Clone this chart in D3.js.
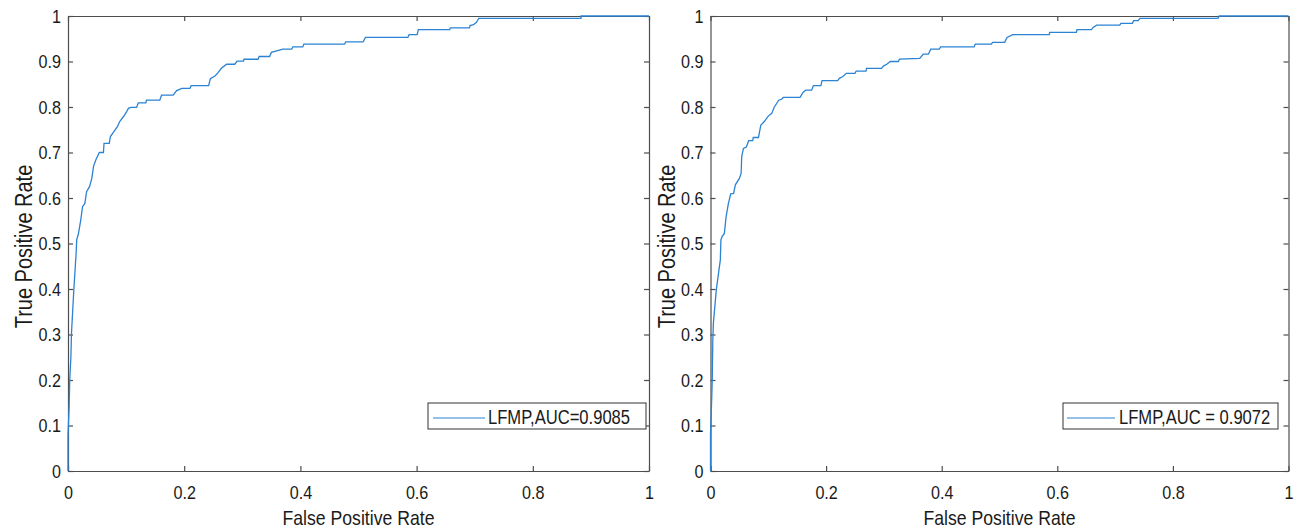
<!DOCTYPE html>
<html>
<head>
<meta charset="utf-8">
<script src="https://cdn.jsdelivr.net/npm/d3@7"></script>
<style>
  body { margin: 0; background: #fff; }
  text { font-family: "Liberation Sans", Arial, sans-serif; fill: #1a1a1a; }
</style>
</head>
<body>
<div class="rocChart"></div>
<script>
// ROC curve points (FPR, TPR)
var leftFpr = [0, 0, 0.002, 0.003, 0.005, 0.006, 0.010, 0.014, 0.015, 0.018, 0.022, 0.025, 0.029, 0.032, 0.037, 0.041, 0.044, 0.048, 0.054, 0.061, 0.062, 0.071, 0.073, 0.079, 0.085, 0.089, 0.095, 0.101, 0.104, 0.108, 0.118, 0.121, 0.134, 0.135, 0.158, 0.161, 0.181, 0.187, 0.196, 0.210, 0.212, 0.242, 0.245, 0.253, 0.258, 0.264, 0.273, 0.287, 0.291, 0.302, 0.303, 0.327, 0.329, 0.347, 0.350, 0.370, 0.385, 0.387, 0.404, 0.406, 0.476, 0.478, 0.508, 0.512, 0.585, 0.587, 0.601, 0.603, 0.657, 0.658, 0.691, 0.692, 0.698, 0.703, 0.707, 0.883, 0.883, 1];
var leftTpr = [0, 0.08, 0.141, 0.2, 0.251, 0.303, 0.398, 0.479, 0.508, 0.522, 0.552, 0.581, 0.588, 0.614, 0.625, 0.643, 0.670, 0.684, 0.700, 0.700, 0.720, 0.720, 0.735, 0.746, 0.757, 0.768, 0.778, 0.790, 0.797, 0.799, 0.799, 0.809, 0.809, 0.815, 0.815, 0.826, 0.826, 0.836, 0.841, 0.841, 0.847, 0.847, 0.862, 0.868, 0.875, 0.885, 0.894, 0.894, 0.901, 0.901, 0.905, 0.905, 0.911, 0.911, 0.920, 0.927, 0.927, 0.932, 0.932, 0.938, 0.938, 0.943, 0.943, 0.953, 0.953, 0.959, 0.959, 0.970, 0.970, 0.974, 0.974, 0.979, 0.981, 0.986, 0.995, 0.995, 1, 1];

var rightFpr = [0, 0, 0.002, 0.003, 0.004, 0.005, 0.010, 0.017, 0.018, 0.020, 0.024, 0.027, 0.031, 0.035, 0.040, 0.043, 0.050, 0.053, 0.054, 0.057, 0.062, 0.066, 0.073, 0.074, 0.083, 0.087, 0.093, 0.100, 0.106, 0.110, 0.118, 0.123, 0.126, 0.155, 0.160, 0.165, 0.175, 0.178, 0.191, 0.193, 0.220, 0.223, 0.229, 0.235, 0.250, 0.252, 0.269, 0.270, 0.296, 0.299, 0.305, 0.311, 0.325, 0.327, 0.362, 0.368, 0.377, 0.381, 0.396, 0.398, 0.456, 0.458, 0.486, 0.488, 0.509, 0.513, 0.523, 0.586, 0.587, 0.633, 0.634, 0.659, 0.662, 0.668, 0.708, 0.710, 0.730, 0.732, 0.740, 0.743, 0.878, 0.880, 1];
var rightTpr = [0, 0.08, 0.156, 0.2, 0.288, 0.325, 0.398, 0.464, 0.508, 0.515, 0.522, 0.559, 0.588, 0.609, 0.610, 0.629, 0.643, 0.654, 0.691, 0.709, 0.712, 0.726, 0.726, 0.733, 0.733, 0.760, 0.768, 0.780, 0.786, 0.799, 0.815, 0.817, 0.821, 0.821, 0.832, 0.837, 0.837, 0.847, 0.847, 0.858, 0.858, 0.863, 0.867, 0.874, 0.874, 0.879, 0.879, 0.885, 0.885, 0.890, 0.894, 0.900, 0.900, 0.905, 0.907, 0.916, 0.916, 0.927, 0.927, 0.932, 0.932, 0.938, 0.938, 0.942, 0.942, 0.953, 0.959, 0.959, 0.964, 0.964, 0.970, 0.970, 0.975, 0.980, 0.980, 0.984, 0.984, 0.990, 0.990, 0.995, 0.995, 1, 1];

var legendLabels = ["LFMP,AUC=0.9085", "LFMP,AUC = 0.9072"];
var xTicks = [0, 0.2, 0.4, 0.6, 0.8, 1];
var yTicks = [0, 0.1, 0.2, 0.3, 0.4, 0.5, 0.6, 0.7, 0.8, 0.9, 1];

var lineColor = "#2b83d3";
var axisColor = "#4d4d4d";

var svg = d3.select(".rocChart").append("svg")
    .attr("width", 1302)
    .attr("height", 528);

// the source figure uses a narrow helvetica-like face: squeeze the glyphs horizontally
function narrow(sel, k) {
    sel.each(function() {
        var w = this.getComputedTextLength();
        d3.select(this).attr("textLength", w * k).attr("lengthAdjust", "spacingAndGlyphs");
    });
}

var panels = [
    {left: 68, width: 581, fpr: leftFpr, tpr: leftTpr, label: legendLabels[0], legendX: 428, legendW: 218, lineX: [5, 57], textX: 60},
    {left: 710.5, width: 578, fpr: rightFpr, tpr: rightTpr, label: legendLabels[1], legendX: 1063, legendW: 215, lineX: [4, 52], textX: 56}
];
var plotTop = 16, plotH = 455;

panels.forEach(function(p) {
    var g = svg.append("g").attr("transform", "translate(" + p.left + "," + plotTop + ")");

    var x = d3.scaleLinear().domain([0, 1]).range([0, p.width]);
    var y = d3.scaleLinear().domain([0, 1]).range([plotH, 0]);
    var fmt = d3.format("~g");

    // bottom / left with labels, ticks pointing inward
    g.append("g").attr("class", "axis")
        .attr("transform", "translate(0," + plotH + ")")
        .call(d3.axisBottom(x).tickValues(xTicks).tickFormat(fmt).tickSize(-5).tickSizeOuter(0).tickPadding(15));
    g.append("g").attr("class", "axis")
        .call(d3.axisLeft(y).tickValues(yTicks).tickFormat(fmt).tickSize(-5).tickSizeOuter(0).tickPadding(7));
    // top / right mirrored, no labels
    g.append("g").attr("class", "axis")
        .call(d3.axisTop(x).tickValues(xTicks).tickFormat("").tickSize(-5).tickSizeOuter(0));
    g.append("g").attr("class", "axis")
        .attr("transform", "translate(" + p.width + ",0)")
        .call(d3.axisRight(y).tickValues(yTicks).tickFormat("").tickSize(-5).tickSizeOuter(0));

    g.selectAll(".axis path, .axis line").attr("stroke", axisColor).attr("stroke-width", 1.2);
    g.selectAll(".axis text").attr("font-size", 19).attr("fill", "#1a1a1a")
        .attr("font-family", "'Liberation Sans', Arial, sans-serif")
        .call(narrow, 0.85);

    var pts = d3.zip(p.fpr, p.tpr);
    var line = d3.line()
        .x(function(d) { return x(d[0]); })
        .y(function(d) { return y(d[1]); });

    g.append("path")
        .datum(pts)
        .attr("d", line)
        .attr("fill", "none")
        .attr("stroke", lineColor)
        .attr("stroke-width", 1.3);

    // axis titles
    g.append("text")
        .attr("x", p.width / 2)
        .attr("y", plotH + 54)
        .attr("text-anchor", "middle")
        .attr("font-size", 21)
        .text("False Positive Rate")
        .call(narrow, 0.84);
    g.append("text")
        .attr("transform", "translate(-36," + (plotH / 2 + 3) + ") rotate(-90)")
        .attr("text-anchor", "middle")
        .attr("font-size", 23.5)
        .text("True Positive Rate")
        .call(narrow, 0.85);

    // legend
    var lg = svg.append("g").attr("transform", "translate(" + p.legendX + ",403)");
    lg.append("rect")
        .attr("width", p.legendW)
        .attr("height", 26)
        .attr("fill", "#fff")
        .attr("stroke", "#333")
        .attr("stroke-width", 1);
    lg.append("line")
        .attr("x1", p.lineX[0]).attr("x2", p.lineX[1])
        .attr("y1", 15).attr("y2", 15)
        .attr("stroke", lineColor)
        .attr("stroke-width", 1.2);
    lg.append("text")
        .attr("transform", "translate(" + p.textX + ",20.5) scale(0.79,1)")
        .attr("font-size", 21)
        .text(p.label);
});
</script>
</body>
</html>
